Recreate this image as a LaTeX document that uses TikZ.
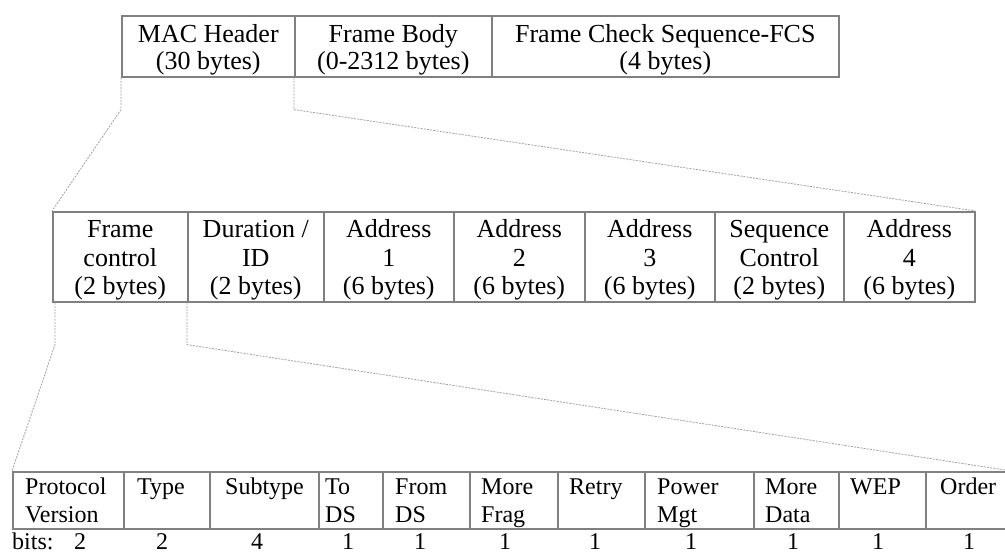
\documentclass[tikz,border=0pt]{standalone}
\usepackage{fontspec}
\setmainfont{Liberation Serif}
\usetikzlibrary{calc}
\definecolor{cellgray}{RGB}{128,128,128}
\definecolor{leadgray}{RGB}{160,160,160}
\tikzset{
  cell/.style={draw=cellgray, line width=1.6pt, inner sep=0pt, anchor=north west},
  lead/.style={draw=leadgray, line width=0.8pt, dash pattern=on 2pt off 1.2pt},
  big/.style={font=\fontsize{26}{30}\selectfont, anchor=base, inner sep=0pt},
  small/.style={font=\fontsize{24}{28}\selectfont, anchor=base west, inner sep=0pt},
  bit/.style={font=\fontsize{24}{28}\selectfont, anchor=base, inner sep=0pt},
}
\begin{document}
\begin{tikzpicture}[x=1pt,y=-1pt]
\useasboundingbox (0,0) rectangle (1005,554);
\clip (0,0) rectangle (1005,554);

% ---- frame: header, body, FCS
\node[cell, minimum width=173pt, minimum height=61pt] (mac)  at (121,15) {};
\node[cell, minimum width=197pt, minimum height=61pt] (body) at (294,15) {};
\node[cell, minimum width=347pt, minimum height=61pt] (fcs)  at (491,15) {};
\foreach \c/\a/\b in {mac/MAC Header/(30 bytes), body/Frame Body/(0-2312 bytes),
                      fcs/Frame Check Sequence-FCS/(4 bytes)} {
  \node[big] (\c-l1) at ($(\c.north)+(0,27)$) {\a};
  \node[big] (\c-l2) at ($(\c.north)+(0,54)$) {\b};
}

% ---- MAC header fields
\node[cell, minimum width=135pt, minimum height=90pt] (fc)  at (52,211)  {};
\node[cell, minimum width=136pt, minimum height=90pt] (dur) at (187,211) {};
\node[cell, minimum width=130pt, minimum height=90pt] (a1)  at (323,211) {};
\node[cell, minimum width=131pt, minimum height=90pt] (a2)  at (453,211) {};
\node[cell, minimum width=130pt, minimum height=90pt] (a3)  at (584,211) {};
\node[cell, minimum width=129pt, minimum height=90pt] (seq) at (714,211) {};
\node[cell, minimum width=131pt, minimum height=90pt] (a4)  at (843,211) {};
\foreach \c/\a/\b/\n in {fc/Frame/control/2, dur/{Duration /}/ID/2, a1/Address/1/6,
                         a2/Address/2/6, a3/Address/3/6, seq/Sequence/Control/2,
                         a4/Address/4/6} {
  \node[big] (\c-l1) at ($(\c.north)+(0,26)$) {\a};
  \node[big] (\c-l2) at ($(\c.north)+(0,55)$) {\b};
  \node[big] (\c-l3) at ($(\c.north)+(0,83)$) {(\n{} bytes)};
}

% ---- frame control bits
\node[cell, minimum width=111pt, minimum height=57pt] (pv)     at (12,471)  {};
\node[cell, minimum width=86pt,  minimum height=57pt] (type)   at (123,471) {};
\node[cell, minimum width=109pt, minimum height=57pt] (sub)    at (209,471) {};
\node[cell, minimum width=64pt,  minimum height=57pt] (tods)   at (318,471) {};
\node[cell, minimum width=87pt,  minimum height=57pt] (fromds) at (382,471) {};
\node[cell, minimum width=88pt,  minimum height=57pt] (mfrag)  at (469,471) {};
\node[cell, minimum width=87pt,  minimum height=57pt] (retry)  at (557,471) {};
\node[cell, minimum width=109pt, minimum height=57pt] (pwr)    at (644,471) {};
\node[cell, minimum width=85pt,  minimum height=57pt] (mdata)  at (753,471) {};
\node[cell, minimum width=87pt,  minimum height=57pt] (wep)    at (838,471) {};
\node[cell, minimum width=85pt,  minimum height=57pt] (order)  at (925,471) {};
\foreach \c/\d/\a in {pv/13/Protocol, type/14/Type, sub/16/Subtype, tods/7/To,
                      fromds/13/From, mfrag/12/More, retry/12/Retry, pwr/13/Power,
                      mdata/12/More, wep/12/WEP, order/15/Order} {
  \node[small] (\c-l1) at ($(\c.north west)+(\d,23)$) {\a};
}
\foreach \c/\d/\a in {pv/13/Version, tods/7/DS, fromds/13/DS, mfrag/12/Frag,
                      pwr/13/Mgt, mdata/12/Data} {
  \node[small] (\c-l2) at ($(\c.north west)+(\d,51)$) {\a};
}

% ---- bit widths
\node[small] (bits) at (12,549) {bits:};
\foreach \x/\v [count=\i] in {80/2, 162/2, 257/4, 348/1, 420/1, 505/1, 595/1,
                              691/1, 793/1, 878/1, 969/1} {
  \node[bit] (w\i) at (\x,549) {\v};
}

% ---- expansion leaders
\draw[lead] (mac.south west) -- ++(0,32) -- (fc.north west);
\draw[lead] (body.south west) -- ++(0,32) -- (a4.north east);
\draw[lead] ([xshift=3pt]fc.south west) -- ++(0,42) -- (pv.north west);
\draw[lead] (dur.south west) -- ++(0,42) -- (order.north east);
\end{tikzpicture}
\end{document}
